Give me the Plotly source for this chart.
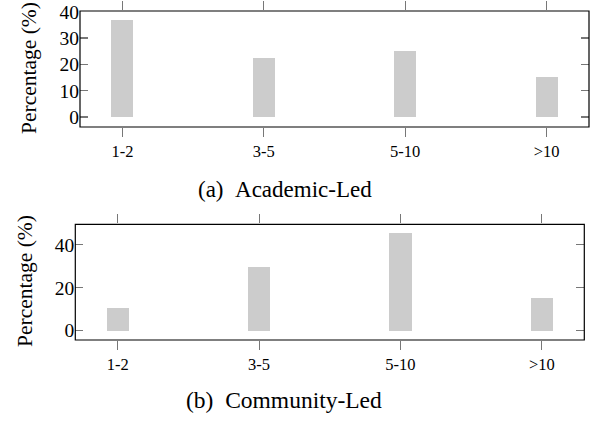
import plotly.graph_objects as go

categories = ["1-2", "3-5", "5-10", ">10"]
academic_led = [36.8, 22.6, 25.2, 15.4]
community_led = [10.5, 29.7, 45.4, 15.3]
academic_yticks = [0, 10, 20, 30, 40]
community_yticks = [0, 20, 40]
y_title = "Percentage (%)"
caption_a = "(a)\u2002Academic-Led"
caption_b = "(b)\u2002Community-Led"

FONT = "Liberation Serif"
BAR = "#cccccc"
TICK = "#777777"
pos = list(range(len(categories)))

fig = go.Figure()
fig.add_trace(go.Bar(x=pos, y=academic_led, width=0.156,
                     marker=dict(color=BAR, line=dict(width=0)), xaxis="x", yaxis="y",
                     showlegend=False, hoverinfo="skip"))
fig.add_trace(go.Bar(x=pos, y=community_led, width=0.156,
                     marker=dict(color=BAR, line=dict(width=0)), xaxis="x2", yaxis="y2",
                     showlegend=False, hoverinfo="skip"))
# empty helper traces so the mirrored (top / right) tick axes are drawn
for xa, ya in [("x3", "y"), ("x", "y3"), ("x4", "y2"), ("x2", "y4")]:
    fig.add_trace(go.Scatter(x=[], y=[], xaxis=xa, yaxis=ya, showlegend=False,
                             hoverinfo="skip"))

xcommon = dict(tickmode="array", tickvals=pos, ticktext=categories,
               range=[-0.3, 3.3], showline=False, ticks="outside", ticklen=9,
               tickcolor=TICK, tickwidth=1.2, showgrid=False, zeroline=False,
               tickfont=dict(family=FONT, size=16.5, color="black"), automargin=False,
               fixedrange=True)
ycommon = dict(showline=False, ticks="inside", ticklen=8, tickcolor=TICK, tickwidth=1.2,
               showgrid=False, zeroline=False,
               tickfont=dict(family=FONT, size=19.5, color="black"), automargin=False,
               fixedrange=True)

fig.update_layout(
    width=598, height=422, margin=dict(l=0, r=0, t=0, b=0, pad=0),
    plot_bgcolor="white", paper_bgcolor="white", bargap=0,
    xaxis=dict(domain=[80/598, 589/598], anchor="y", **xcommon),
    yaxis=dict(domain=[1-127/422, 1-11/422], anchor="x", range=[-3.8, 40.3],
               tickvals=academic_yticks, **ycommon),
    xaxis2=dict(domain=[75.3/598, 584.3/598], anchor="y2", **xcommon),
    yaxis2=dict(domain=[1-340/422, 1-224.3/422], anchor="x2", range=[-4.35, 49.6],
                tickvals=community_yticks, **ycommon),
    xaxis3=dict(overlaying="x", side="top", anchor="y", showticklabels=False, **xcommon),
    yaxis3=dict(overlaying="y", side="right", anchor="x", range=[-3.8, 40.3],
                tickvals=academic_yticks, showticklabels=False, **ycommon),
    xaxis4=dict(overlaying="x2", side="top", anchor="y2", showticklabels=False, **xcommon),
    yaxis4=dict(overlaying="y2", side="right", anchor="x2", range=[-4.35, 49.6],
                tickvals=community_yticks, showticklabels=False, **ycommon),
    shapes=[
        dict(type="rect", xref="x domain", yref="y domain", x0=0, x1=1, y0=0, y1=1,
             line=dict(color="black", width=1.2), fillcolor="rgba(0,0,0,0)", layer="above"),
        dict(type="rect", xref="x2 domain", yref="y2 domain", x0=0, x1=1, y0=0, y1=1,
             line=dict(color="black", width=1.2), fillcolor="rgba(0,0,0,0)", layer="above"),
    ],
    annotations=[
        dict(text=y_title, textangle=-90, x=29/598, y=1-68/422, xref="paper", yref="paper",
             xanchor="center", yanchor="middle",
             showarrow=False, font=dict(family=FONT, size=21.5, color="black")),
        dict(text=y_title, textangle=-90, x=25/598, y=1-281/422, xref="paper", yref="paper",
             xanchor="center", yanchor="middle",
             showarrow=False, font=dict(family=FONT, size=21.5, color="black")),
        dict(text=caption_a, x=284.7/598, y=1-189/422, xref="paper", yref="paper",
             xanchor="center", yanchor="middle",
             showarrow=False, font=dict(family=FONT, size=23, color="black")),
        dict(text=caption_b, x=284/598, y=1-400/422, xref="paper", yref="paper",
             xanchor="center", yanchor="middle",
             showarrow=False, font=dict(family=FONT, size=23.5, color="black")),
    ],
)

fig.write_html("out.html", config={"displayModeBar": False, "staticPlot": True},
               post_script="document.body.style.margin='0';")
